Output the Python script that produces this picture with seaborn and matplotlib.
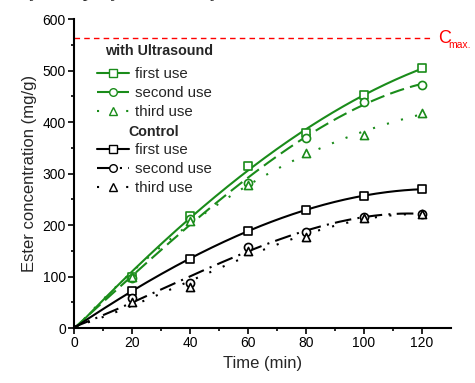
import numpy as np
import pandas as pd
import matplotlib
matplotlib.use("Agg")
import matplotlib.pyplot as plt
import seaborn as sns
from matplotlib.lines import Line2D

time = [0, 20, 40, 60, 80, 100, 120]
us_first = [0, 100, 218, 314, 379, 452, 505]
us_second = [0, 97, 212, 282, 370, 440, 472]
us_third = [0, 100, 208, 278, 340, 375, 418]
ctl_first = [0, 72, 134, 189, 230, 256, 270]
ctl_second = [0, 58, 87, 158, 187, 215, 222]
ctl_third = [0, 51, 79, 150, 177, 213, 221]
c_max = 563
labels = ["first use", "second use", "third use"]

sns.set_theme(style="ticks")
plt.rcParams['font.family'] = ['Liberation Sans', 'DejaVu Sans']

fig = plt.figure(figsize=(4.75, 3.83), dpi=100)
ax = fig.add_axes([0.156, 0.1436, 0.793, 0.8064])

green = "#1a8c1a"
series = [
    (us_first, green, "-", "s", "first use"),
    (us_second, green, (0, (7, 3)), "o", "second use"),
    (us_third, green, (0, (1, 6)), "^", "third use"),
    (ctl_first, "black", "-", "s", "first use"),
    (ctl_second, "black", (0, (8, 3, 1, 3)), "o", "second use"),
    (ctl_third, "black", (0, (1, 6)), "^", "third use"),
]

xs = np.linspace(0, 120, 200)
handles = []
for vals, col, ls, mk, lab in series:
    coef = np.polyfit(time, vals, 3)
    fit = pd.DataFrame({"t": xs, "v": np.polyval(coef, xs)})
    sns.lineplot(data=fit, x="t", y="v", ax=ax, color=col, linestyle=ls, lw=1.5)
    df = pd.DataFrame({"t": time[1:], "v": vals[1:]})
    sns.scatterplot(data=df, x="t", y="v", ax=ax, marker=mk, s=34,
                    facecolor="white", edgecolor=col, linewidth=1.2, zorder=5)
    handles.append(Line2D([0], [0], color=col, linestyle=ls, lw=1.5, marker=mk,
                          markersize=5.5, markerfacecolor="white", markeredgecolor=col))

# Cmax line
ax.plot([0, 123], [c_max, c_max], color="red", linestyle=(0, (4, 3)), lw=1)
ax.text(125.5, c_max, "C", color="red", fontsize=13, va="center", ha="left", clip_on=False)
ax.text(129.3, c_max - 13, "max.", color="red", fontsize=7.5, va="center", ha="left", clip_on=False)

blank = Line2D([0], [0], color="none")
leg_handles = [blank] + handles[:3] + [blank] + handles[3:]
leg_labels = [" "] + labels + [" "] + labels
leg = ax.legend(leg_handles, leg_labels, loc="upper left", bbox_to_anchor=(0.061, 0.905),
                frameon=False, fontsize=10.8, handlelength=2.15, handletextpad=0.4,
                labelspacing=0.33, borderaxespad=0, borderpad=0)
ax.text(0.082, 0.897, "with Ultrasound", transform=ax.transAxes, fontsize=10.3,
        fontweight="bold", va="center", ha="left")
ax.text(0.143, 0.635, "Control", transform=ax.transAxes, fontsize=10.3,
        fontweight="bold", va="center", ha="left")

ax.set_xlim(0, 130)
ax.set_ylim(0, 600)
ax.set_xticks([0, 20, 40, 60, 80, 100, 120])
ax.set_xticks(np.arange(10, 130, 20), minor=True)
ax.set_yticks([0, 100, 200, 300, 400, 500, 600])
ax.set_yticks(np.arange(50, 600, 100), minor=True)
ax.tick_params(axis="both", which="major", direction="out", length=4, width=1.2,
               labelsize=10, color="black", labelcolor="black", pad=2)
ax.tick_params(axis="both", which="minor", direction="out", length=2.5, width=1.2, color="black")
ax.set_xlabel("Time (min)", fontsize=12, labelpad=4)
ax.set_ylabel("Ester concentration (mg/g)", fontsize=12, labelpad=4)
sns.despine(ax=ax)
for s in ["left", "bottom"]:
    ax.spines[s].set_linewidth(1.5)
    ax.spines[s].set_color("black")

fig.text(-0.005, 1.022, "tivity of Lipozyme 435 enzyme.", fontsize=14,
         family=["Liberation Serif", "DejaVu Serif"], va="center", ha="left")

fig.savefig("out.png", dpi=100)
